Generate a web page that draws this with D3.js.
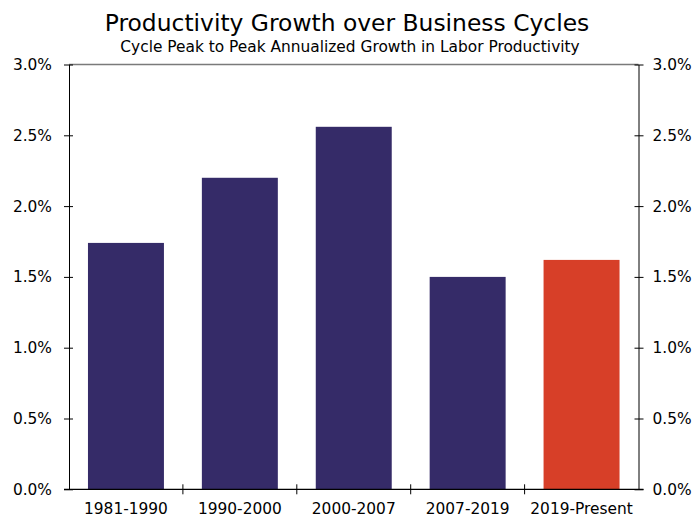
<!DOCTYPE html>
<html>
<head>
<meta charset="utf-8">
<script src="https://cdn.jsdelivr.net/npm/d3@7"></script>
<style>
  html, body { margin: 0; padding: 0; background: #fff; }
  svg text { font-family: "DejaVu Sans", Verdana, sans-serif; fill: #000; }
</style>
</head>
<body>
<svg id="chart" width="694" height="518"></svg>
<script>
// Labor productivity, cycle peak-to-peak annualized growth (%)
const categories = ["1981-1990", "1990-2000", "2000-2007", "2007-2019", "2019-Present"];
const growth = [1.74, 2.20, 2.56, 1.50, 1.62];
const barColors = ["#352b68", "#352b68", "#352b68", "#352b68", "#d73f28"];
const yTicks = [0, 0.5, 1.0, 1.5, 2.0, 2.5, 3.0];

const svg = d3.select("#chart");
const W = 694, H = 518;
const margin = { left: 69, right: W - 638.5, top: 64.5, bottom: H - 489.3 };

const x = d3.scaleBand()
  .domain(categories)
  .range([margin.left, W - margin.right])
  .paddingInner(0.333)
  .paddingOuter(0.1665);

const y = d3.scaleLinear().domain([0, 3]).range([H - margin.bottom, margin.top]);

// Title & subtitle
svg.append("text")
  .attr("x", 347).attr("y", 31)
  .attr("text-anchor", "middle")
  .style("font-size", "23.4px")
  .text("Productivity Growth over Business Cycles");
svg.append("text")
  .attr("x", 350).attr("y", 52)
  .attr("text-anchor", "middle")
  .style("font-size", "15.4px")
  .text("Cycle Peak to Peak Annualized Growth in Labor Productivity");

// Bars
svg.append("g").selectAll("rect")
  .data(categories.map((c, i) => ({ c, v: growth[i], col: barColors[i] })))
  .join("rect")
  .attr("x", d => x(d.c))
  .attr("width", x.bandwidth())
  .attr("y", d => y(d.v))
  .attr("height", d => y(0) - y(d.v))
  .attr("fill", d => d.col);

// Top frame line
svg.append("line")
  .attr("x1", margin.left).attr("x2", W - margin.right)
  .attr("y1", y(3)).attr("y2", y(3))
  .attr("stroke", "#7a7a7a").attr("stroke-width", 1.5);

const fmt = d => d3.format(".1f")(d) + "%";

// Left axis
const left = svg.append("g")
  .attr("transform", `translate(${margin.left},0)`)
  .call(d3.axisLeft(y).tickValues(yTicks).tickFormat(fmt).tickSizeInner(5).tickSizeOuter(0).tickPadding(12));
left.selectAll(".tick line").attr("x1", 4);
// Right axis
const right = svg.append("g")
  .attr("transform", `translate(${W - margin.right},0)`)
  .call(d3.axisRight(y).tickValues(yTicks).tickFormat(fmt).tickSizeInner(5).tickSizeOuter(0).tickPadding(9));
right.selectAll(".tick line").attr("x1", -4);

// Bottom axis with ticks at category boundaries
const bottom = svg.append("g")
  .attr("transform", `translate(0,${y(0)})`)
  .call(d3.axisBottom(x).tickSize(0).tickPadding(14));
bottom.select(".domain").remove();
svg.append("line")
  .attr("x1", margin.left - 5).attr("x2", W - margin.right + 5)
  .attr("y1", y(0)).attr("y2", y(0))
  .attr("stroke", "#000").attr("stroke-width", 1.2);
const step = x.step();
const bounds = d3.range(1, categories.length).map(i => x(categories[i]) - x.paddingInner() * step / 2);
svg.append("g").selectAll("line")
  .data(bounds)
  .join("line")
  .attr("x1", d => d).attr("x2", d => d)
  .attr("y1", y(0) - 5).attr("y2", y(0) + 5)
  .attr("stroke", "#000");

[left, right, bottom].forEach(g => {
  g.selectAll("text").style("font-size", "15.4px").attr("fill", "#000");
  g.selectAll(".domain, .tick line").attr("stroke", "#000");
});
</script>
</body>
</html>
